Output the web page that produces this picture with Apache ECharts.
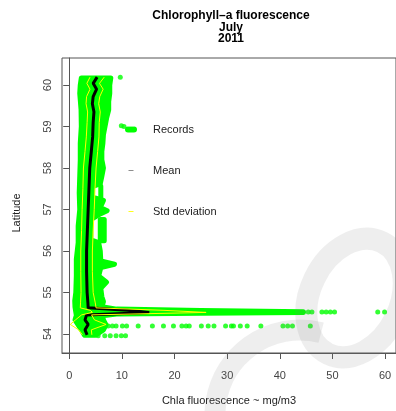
<!DOCTYPE html>
<html>
<head>
<meta charset="utf-8">
<script src="https://cdn.jsdelivr.net/npm/echarts@6/dist/echarts.min.js"></script>
<style>
  html, body { margin: 0; padding: 0; background: #ffffff; }
  #chart { width: 396px; height: 411px; }
</style>
</head>
<body>
<div id="chart"></div>
<script>
// Axis ticks
const xTicks = [0, 10, 20, 30, 40, 50, 60];
const yTicks = [54, 55, 56, 57, 58, 59, 60];

// Mean and standard deviation of chlorophyll-a per latitude bin (north to south)
const meanLat = [60.19, 60.04, 59.9, 59.72, 59.55, 59.35, 59.1, 58.75, 58.4, 58.0, 57.5, 57.0, 56.5, 56.0, 55.5, 55.0, 54.75, 54.63, 54.57, 54.52, 54.46, 54.34, 54.23, 54.1, 53.98];
const meanVal = [5.3, 4.55, 5.2, 4.55, 4.4, 4.7, 4.55, 4.45, 4.2, 3.9, 3.75, 3.6, 3.45, 3.3, 3.3, 3.4, 3.55, 3.6, 11.0, 15.2, 3.3, 3.0, 3.6, 3.0, 3.4];
const sdVal   = [1.35, 1.2, 1.25, 1.25, 1.2, 1.2, 1.15, 1.2, 1.2, 1.2, 1.15, 1.15, 1.1, 1.1, 1.1, 1.15, 1.4, 1.5, 7.0, 10.8, 0.95, 1.8, 3.4, 1.2, 0.9];

// Outline of the dense cloud of records: east edge from north to south ...
const cloudRightLat = [60.17, 60.0, 59.8, 59.6, 59.4, 59.2, 59.0, 58.8, 58.6, 58.4, 58.2, 58.0, 57.8, 57.62, 57.55, 57.3, 57.22, 57.05, 56.97, 56.9, 56.76, 56.27, 56.2, 56.0, 55.76, 55.68, 55.6, 55.4, 55.25, 55.1, 54.9, 54.78, 54.66, 54.6, 54.565, 54.535, 54.52, 54.5, 54.48, 54.44, 54.34, 54.22, 54.1, 53.97];
const cloudRightVal = [7.9, 7.7, 7.7, 7.5, 7.5, 7.1, 6.8, 6.5, 6.4, 6.2, 6.2, 6.5, 6.2, 5.9, 4.4, 4.4, 6.5, 5.9, 7.2, 6.0, 4.1, 4.1, 5.6, 5.9, 6.0, 8.6, 6.0, 5.6, 7.1, 6.0, 6.2, 6.5, 6.2, 9.0, 25.0, 44.5, 44.5, 25.0, 9.0, 6.3, 6.5, 7.0, 6.5, 5.0];
// ... and west edge from south to north
const cloudLeftLat = [53.97, 54.1, 54.22, 54.34, 54.45, 54.65, 54.8, 55.0, 55.4, 55.8, 56.2, 56.6, 57.0, 57.4, 57.8, 58.2, 58.6, 59.0, 59.4, 59.8, 60.0, 60.17];
const cloudLeftVal = [2.9, 2.3, 1.7, 1.1, 1.35, 1.1, 1.05, 1.25, 1.35, 1.35, 1.7, 1.7, 2.0, 1.9, 2.0, 2.1, 2.1, 2.3, 2.25, 2.0, 2.1, 2.3];

// Narrow columns of records beside small gaps in the cloud: [north, south, west, east]
const columnA = [57.56, 57.27, 6.0, 6.0];
const columnB = [56.76, 56.25, 5.9, 6.65];

// Isolated records away from the cloud
const sparseVal = [45.4, 46.1, 48.0, 48.8, 49.6, 50.4, 58.6, 59.9,
  7.4, 8.2, 8.9, 10.1, 10.9, 13.1, 15.8, 17.9, 19.8, 21.4, 22.2, 22.8, 25.1, 26.4, 27.5, 29.7, 30.8, 31.2, 32.5, 33.8, 36.4, 40.6, 41.5, 42.4, 45.8,
  5.5, 6.75, 7.8, 8.9, 9.9, 10.7,
  9.7, 9.9, 10.4];
const sparseLat = [54.53, 54.53, 54.53, 54.53, 54.53, 54.53, 54.53, 54.53,
  54.19, 54.19, 54.19, 54.19, 54.19, 54.19, 54.19, 54.19, 54.19, 54.19, 54.19, 54.19, 54.19, 54.19, 54.19, 54.19, 54.19, 54.19, 54.19, 54.19, 54.19, 54.19, 54.19, 54.19, 54.19,
  53.96, 53.96, 53.96, 53.96, 53.96, 53.96,
  60.19, 59.02, 59.0];

const GREEN = '#00ff00';
const FONT = '"Liberation Sans", Arial, Helvetica, sans-serif';
const AXIS_COLOR = '#555555';
const TEXT_COLOR = '#222222';
const STAMP = 'rgba(120,120,120,0.13)';

// Polygons describing the record cloud
function pairs(lats, vals) { return lats.map((l, i) => [vals[i], l]); }
function column(c) { return [[c[2], c[0]], [c[3], c[0]], [c[3], c[1]], [c[2], c[1]]]; }
const cloudShapes = [
  pairs(cloudRightLat, cloudRightVal).concat(pairs(cloudLeftLat, cloudLeftVal)),
  column(columnA),
  column(columnB)
];

const meanData = meanLat.map((l, i) => [meanVal[i], l]);
const sdUpper = meanLat.map((l, i) => [meanVal[i] + sdVal[i], l]);
const sdLower = meanLat.map((l, i) => [meanVal[i] - sdVal[i], l]);
const sparseData = sparseLat.map((l, i) => [sparseVal[i], l]);

const blobIcon = 'path://M0,3a3,3 0 1,0 6,0a3,3 0 1,0 -6,0Z M2,3a3,3 0 1,0 6,0a3,3 0 1,0 -6,0Z M4,3a3,3 0 1,0 6,0a3,3 0 1,0 -6,0Z M6,3a3,3 0 1,0 6,0a3,3 0 1,0 -6,0Z';
const dashIcon = 'path://M0,0M12,6M3.5,2.6h5v0.9h-5Z';

const chart = echarts.init(document.getElementById('chart'), null, { renderer: 'canvas' });

chart.setOption({
  animation: false,
  backgroundColor: '#ffffff',
  textStyle: { fontFamily: FONT },
  grid: {
    left: 62, top: 58, width: 338, height: 295,
    show: true, borderColor: AXIS_COLOR, borderWidth: 1, backgroundColor: 'transparent'
  },
  xAxis: {
    type: 'value', min: -1.37, max: 62.07,
    name: 'Chla fluorescence ~ mg/m3', nameLocation: 'middle', nameGap: 42,
    nameTextStyle: { fontSize: 11, color: TEXT_COLOR, fontFamily: FONT },
    axisLine: { show: true, lineStyle: { color: AXIS_COLOR, width: 1 } },
    axisTick: { show: true, length: 6, inside: false, customValues: xTicks, lineStyle: { color: AXIS_COLOR } },
    axisLabel: { customValues: xTicks, fontSize: 11, color: '#444', margin: 17, fontFamily: FONT },
    splitLine: { show: false }
  },
  yAxis: {
    type: 'value', min: 53.542, max: 60.651,
    axisLine: { show: true, lineStyle: { color: AXIS_COLOR, width: 1 } },
    axisTick: { show: true, length: 6, inside: false, customValues: yTicks, lineStyle: { color: AXIS_COLOR } },
    axisLabel: { customValues: yTicks, fontSize: 11, color: '#444', margin: 9, rotate: 90, fontFamily: FONT },
    splitLine: { show: false }
  },
  legend: {
    orient: 'vertical', left: 120, top: 118,
    itemWidth: 12, itemHeight: 6, itemGap: 28,
    selectedMode: false,
    textStyle: { fontSize: 11, color: TEXT_COLOR, lineHeight: 13, padding: [0, 0, 0, 11], fontFamily: FONT },
    data: [
      { name: 'Records', icon: blobIcon, itemStyle: { color: GREEN, borderWidth: 0 } },
      { name: 'Mean', icon: dashIcon, itemStyle: { color: '#808080', borderWidth: 0 } },
      { name: 'Std deviation', icon: dashIcon, itemStyle: { color: '#ffff00', borderWidth: 0 } }
    ]
  },
  graphic: [
    { type: 'text', x: 231, y: 15.5, style: { text: 'Chlorophyll–a fluorescence', align: 'center', verticalAlign: 'middle', font: 'bold 12px ' + FONT, fill: '#000' } },
    { type: 'text', x: 231, y: 27.5, style: { text: 'July', align: 'center', verticalAlign: 'middle', font: 'bold 12px ' + FONT, fill: '#000' } },
    { type: 'text', x: 231, y: 39, style: { text: '2011', align: 'center', verticalAlign: 'middle', font: 'bold 12px ' + FONT, fill: '#000' } },
    // y-axis title
    { type: 'text', x: 17, y: 213, rotation: Math.PI / 2,
      style: { text: 'Latitude', align: 'center', verticalAlign: 'middle', font: '11px ' + FONT, fill: TEXT_COLOR } },
    // faint stamp over the lower right of the figure
    { type: 'arc', silent: true, z: 100,
      shape: { cx: 300, cy: 415, r: 85, startAngle: Math.PI * 0.8, endAngle: Math.PI * 1.58, clockwise: true },
      style: { fill: null, stroke: STAMP, lineWidth: 21 } },
    { type: 'ellipse', silent: true, z: 100, x: 355, y: 298, rotation: -0.45,
      shape: { cx: 0, cy: 0, rx: 45, ry: 62 },
      style: { fill: null, stroke: STAMP, lineWidth: 22 } }
  ],
  series: [
    {
      name: 'Records', type: 'custom', z: 1, silent: true,
      itemStyle: { color: GREEN },
      encode: { x: 0, y: 1 },
      data: cloudShapes.map((pts, i) => [pts[0][0], pts[0][1], i]),
      renderItem: function (params, api) {
        const pts = cloudShapes[api.value(2)].map(p => api.coord(p));
        return {
          type: 'polygon',
          shape: { points: pts },
          style: { fill: GREEN, stroke: GREEN, lineWidth: 5, lineJoin: 'round' }
        };
      }
    },
    {
      name: 'Records', type: 'scatter', z: 1, silent: true,
      symbol: 'circle', symbolSize: 5,
      itemStyle: { color: GREEN },
      data: sparseData
    },
    {
      name: 'Mean', type: 'line', z: 2, silent: true,
      showSymbol: false, symbol: 'none',
      lineStyle: { color: '#000000', width: 3 },
      itemStyle: { color: '#000000' },
      data: meanData
    },
    {
      name: 'Std deviation', type: 'line', z: 3, silent: true,
      showSymbol: false, symbol: 'none',
      lineStyle: { color: '#ffff00', width: 1 },
      itemStyle: { color: '#ffff00' },
      data: sdUpper
    },
    {
      name: 'Std deviation', type: 'line', z: 3, silent: true,
      showSymbol: false, symbol: 'none',
      lineStyle: { color: '#ffff00', width: 1 },
      itemStyle: { color: '#ffff00' },
      data: sdLower
    }
  ]
});
</script>
</body>
</html>
